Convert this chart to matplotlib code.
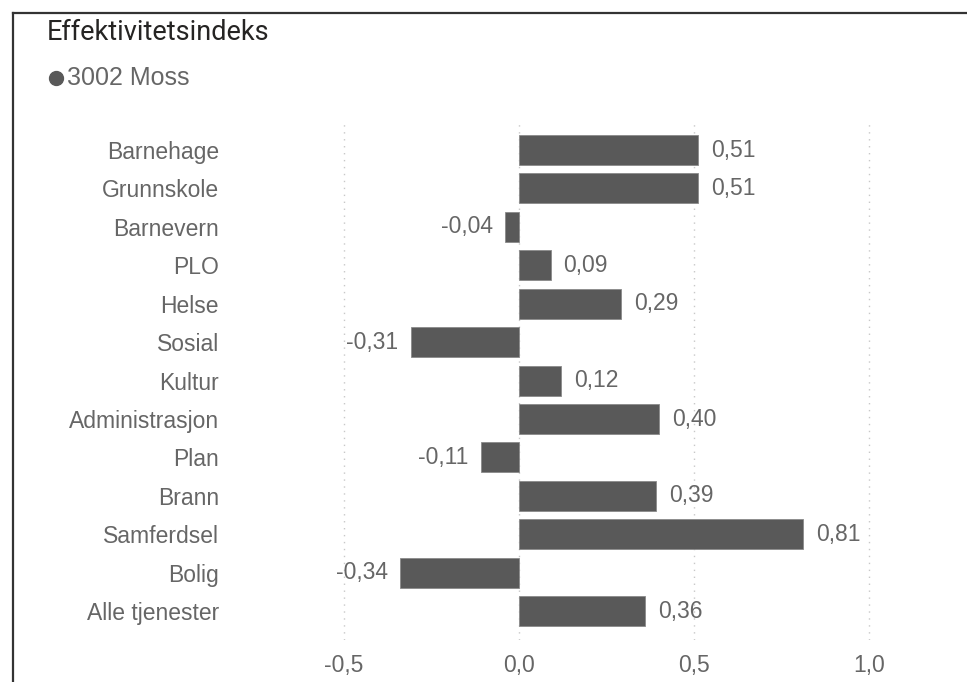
import matplotlib
matplotlib.use("Agg")
import matplotlib.pyplot as plt
from matplotlib.lines import Line2D

categories = ["Barnehage", "Grunnskole", "Barnevern", "PLO", "Helse", "Sosial", "Kultur",
              "Administrasjon", "Plan", "Brann", "Samferdsel", "Bolig", "Alle tjenester"]
values = [0.51, 0.51, -0.04, 0.09, 0.29, -0.31, 0.12, 0.40, -0.11, 0.39, 0.81, -0.34, 0.36]
x_ticks = [-0.5, 0.0, 0.5, 1.0]
x_tick_labels = ["-0,5", "0,0", "0,5", "1,0"]

plt.rcParams["font.family"] = ["Liberation Sans", "DejaVu Sans"]

W, H = 967, 682
fig = plt.figure(figsize=(W / 100, H / 100), dpi=100)
ax = fig.add_axes([230 / W, (H - 640) / H, 720 / W, 518 / H])

bar_color = "#595959"
text_color = "#666666"
fs = 16.5

y = list(range(len(categories)))
ax.barh(y, values, height=0.78, color=bar_color, edgecolor="#8a8a8a", linewidth=0.6, zorder=3)

for yi, v in zip(y, values):
    label = f"{v:.2f}".replace(".", ",")
    if v >= 0:
        ax.annotate(label, (v, yi), xytext=(13, 0), textcoords="offset pixels",
                    ha="left", va="center", fontsize=fs, color=text_color)
    else:
        ax.annotate(label, (v, yi), xytext=(-12, 0), textcoords="offset pixels",
                    ha="right", va="center", fontsize=fs, color=text_color)

ax.set_xlim(-0.826, 1.231)
ax.set_ylim(12.75, -0.73)
ax.set_xticks(x_ticks)
ax.set_xticklabels(x_tick_labels)
ax.set_yticks(y)
ax.set_yticklabels(categories)
ax.tick_params(axis="x", length=0, pad=10, labelsize=fs, labelcolor=text_color)
ax.tick_params(axis="y", length=0, pad=8, labelsize=fs, labelcolor=text_color)
ax.grid(axis="x", linestyle=(0, (1, 4)), color="#c8c8c8", linewidth=1, zorder=0)
for s in ax.spines.values():
    s.set_visible(False)

# title and legend
fig.text(47 / W, 1 - 32 / H, "Effektivitetsindeks", fontsize=19.5, color="#252423",
         family=["Roboto", "DejaVu Sans"], va="center", ha="left")
fig.add_artist(Line2D([56 / W], [1 - 78 / H], marker="o", markersize=10,
                      color="#595959", linestyle="none"))
fig.text(67 / W, 1 - 78 / H, "3002 Moss", fontsize=18, color=text_color,
         va="center", ha="left")

# frame lines
fig.add_artist(Line2D([12.5 / W, 12.5 / W], [0, 1 - 13 / H], color="#333333", linewidth=1.6))
fig.add_artist(Line2D([12.5 / W, 1], [1 - 13 / H, 1 - 13 / H], color="#333333", linewidth=1.6))

fig.savefig("out.png", dpi=100)
